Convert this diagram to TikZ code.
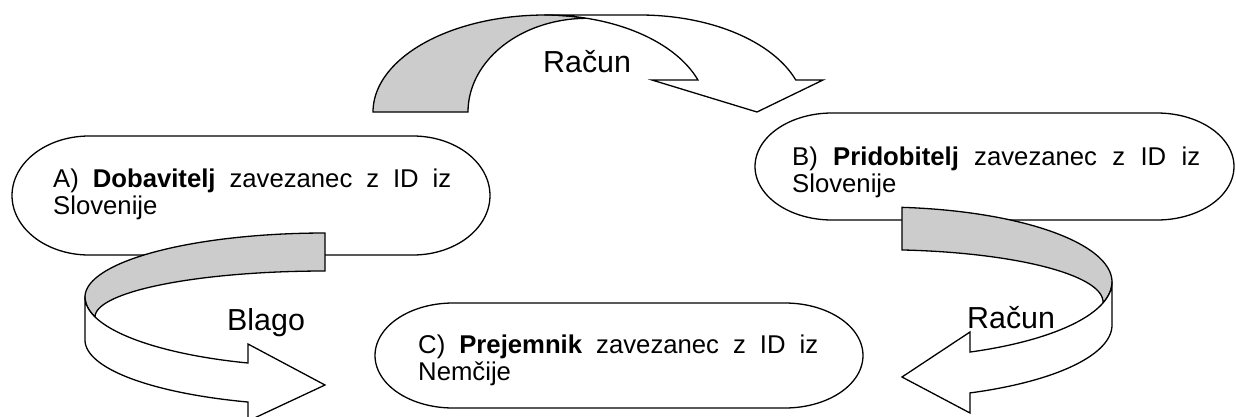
\documentclass[tikz,border=0pt]{standalone}
\usepackage{fontspec}
\setmainfont{Liberation Sans}
\definecolor{band}{HTML}{CCCCCC}
\tikzset{
  outline/.style={draw=black, line width=1.3bp, line join=miter},
  boxshape/.style={outline, fill=white},
  bandback/.style={outline, fill=band},
  bandfront/.style={outline, fill=white},
  boxtext/.style={inner sep=0pt, anchor=base west, font=\fontsize{25.8}{28}\selectfont},
  lbl/.style={inner sep=0pt, anchor=base west, font=\fontsize{30.5}{32}\selectfont},
}
% terminator shape: x1 y1 x2 y2 rx
\newcommand{\termshape}[5]{%
  \filldraw[boxshape] ({#1+#5},#2) -- ({#3-#5},#2)
    -- plot[domain=-90:90, samples=60, variable=\t] ({#3-#5+#5*cos(\t)},{(#2+#4)/2+(#4-#2)/2*sin(\t)})
    -- ({#1+#5},#4)
    -- plot[domain=90:270, samples=60, variable=\t] ({#1+#5+#5*cos(\t)},{(#2+#4)/2+(#4-#2)/2*sin(\t)})
    -- cycle;}
\begin{document}
\begin{tikzpicture}[x=1bp,y=-1bp]
\useasboundingbox (0,0) rectangle (1236,416);
% boxes
\termshape{12}{136}{490}{255}{77}
\termshape{755}{113}{1234}{220}{77}
\termshape{375}{303}{863}{408}{78}
\node[boxtext] (A) at (53,187) {\parbox[t]{398bp}{\makebox[398bp][s]{A) \textbf{Dobavitelj} zavezanec z ID iz}\newline Slovenije}};
\node[boxtext] (B) at (792,165) {\parbox[t]{408bp}{\makebox[408bp][s]{B) \textbf{Pridobitelj} zavezanec z ID iz}\newline Slovenije}};
\node[boxtext] (C) at (418,353) {\parbox[t]{400bp}{\makebox[400bp][s]{C) \textbf{Prejemnik} zavezanec z ID iz}\newline Nemčije}};
% top curved arrow
\filldraw[bandback] (373,112)
  -- plot[domain=180:270, samples=50, variable=\t] ({545+172*cos(\t)},{112+97*sin(\t)})
  -- plot[domain=270:285, samples=10, variable=\t] ({545+162*cos(\t)},{112+97*sin(\t)})
  -- plot[domain=270:180, samples=50, variable=\t] ({587+119*cos(\t)},{112+93.7*sin(\t)})
  -- cycle;
\filldraw[bandfront] (545,15) -- (640,15)
  -- plot[domain=270:340.74, samples=50, variable=\t] ({640+165*cos(\t)},{112+97*sin(\t)})
  -- (823,80) -- (757,112) -- (652,80)
  -- plot[domain=340.74:270, samples=50, variable=\t] ({545+162*cos(\t)},{112+97*sin(\t)})
  -- cycle;
% right curved arrow
\filldraw[bandback]
  plot[domain=275.44:360, samples=50, variable=\t] ({880+232*cos(\t)},{282+75*sin(\t)})
  -- plot[domain=0:16, samples=10, variable=\t] ({880+232*cos(\t)},{282+76*sin(\t)})
  -- plot[domain=0:-84.34, samples=50, variable=\t] ({880+223*cos(\t)},{302+52.3*sin(\t)})
  -- cycle;
\filldraw[bandfront] (1112,282) -- (1112,325)
  -- plot[domain=0:67.2, samples=50, variable=\t] ({880+232*cos(\t)},{325+73.7*sin(\t)})
  -- (970,413) -- (902,377) -- (970,332)
  -- plot[domain=67.2:0, samples=50, variable=\t] ({880+232*cos(\t)},{282+76*sin(\t)})
  -- cycle;
% left curved arrow
\filldraw[bandback]
  plot[domain=270:180, samples=50, variable=\t] ({325+240*cos(\t)},{297+64*sin(\t)})
  -- plot[domain=180:163.4, samples=10, variable=\t] ({325+240*cos(\t)},{297+69.7*sin(\t)})
  -- plot[domain=180:270, samples=50, variable=\t] ({325+230*cos(\t)},{317+46*sin(\t)})
  -- cycle;
\filldraw[bandfront] (85,297) -- (85,340)
  -- plot[domain=180:108.7, samples=50, variable=\t] ({325+240*cos(\t)},{340+65.5*sin(\t)})
  -- (248,421) -- (325,385) -- (248,344)
  -- plot[domain=108.7:180, samples=50, variable=\t] ({325+240*cos(\t)},{297+69.7*sin(\t)})
  -- cycle;
% labels
\node[lbl] (r1) at (543,72) {Račun};
\node[lbl] (bl) at (227,330) {Blago};
\node[lbl] (r2) at (967,328) {Račun};
\end{tikzpicture}
\end{document}
